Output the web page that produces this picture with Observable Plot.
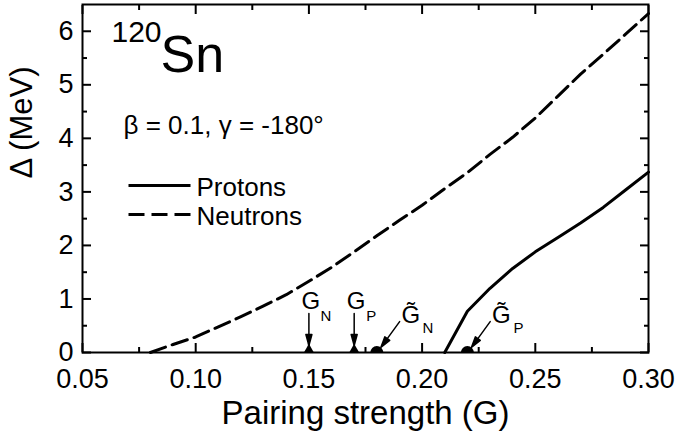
<!DOCTYPE html>
<html>
<head>
<meta charset="utf-8">
<script src="https://cdn.jsdelivr.net/npm/d3@7"></script>
<script src="https://cdn.jsdelivr.net/npm/@observablehq/plot@0.6"></script>
<style>
  html, body { margin: 0; padding: 0; background: white; }
</style>
</head>
<body>
<div id="chart"></div>
<script>
// Pairing gap Δ versus pairing strength G for 120Sn (β = 0.1, γ = -180°)
const neutronG = [0.08, 0.09, 0.10, 0.11, 0.12, 0.13, 0.14, 0.15, 0.16, 0.17, 0.18, 0.19,
                  0.20, 0.21, 0.22, 0.23, 0.24, 0.25, 0.26, 0.27, 0.28, 0.29, 0.30];
const neutronGap = [0, 0.15, 0.29, 0.48, 0.67, 0.87, 1.08, 1.33, 1.59, 1.88, 2.18, 2.47,
                    2.75, 3.06, 3.36, 3.70, 4.02, 4.38, 4.79, 5.20, 5.57, 5.95, 6.33];

const protonG = [0.21, 0.22, 0.23, 0.24, 0.25, 0.26, 0.27, 0.28, 0.29, 0.30];
const protonGap = [0, 0.77, 1.20, 1.57, 1.88, 2.15, 2.42, 2.71, 3.04, 3.37];

// critical strengths marked on the axis
const criticalG = [0.15, 0.17];          // G_N, G_P (triangles)
const criticalSub = ["N", "P"];
const tildeG = [0.18, 0.22];             // G̃_N, G̃_P (half discs)
const tildeSub = ["N", "P"];

// axis ticks
const xTicks = [0.05, 0.10, 0.15, 0.20, 0.25, 0.30];
const xMinorTicks = [0.075, 0.125, 0.175, 0.225, 0.275];
const yTicks = [0, 1, 2, 3, 4, 5, 6];
const yMinorTicks = [0.5, 1.5, 2.5, 3.5, 4.5, 5.5];

// legend
const legendLabels = ["Protons", "Neutrons"];
const legendDash = [null, "16,7"];

const neutrons = neutronG.map((g, i) => ({g, gap: neutronGap[i]}));
const protons = protonG.map((g, i) => ({g, gap: protonGap[i]}));
const critical = criticalG.map((g, i) => ({g, sub: criticalSub[i]}));
const tilde = tildeG.map((g, i) => ({g, sub: tildeSub[i]}));

// vector shapes: plain segment, and segment with a filled narrow head
const segment = {draw(c, l) { c.moveTo(0, 0); c.lineTo(0, -l); }};
const solidArrow = {
  draw(c, l) {
    const h = 11, w = 3;
    c.moveTo(0, 0); c.lineTo(0, -l + h);
    c.moveTo(-w, -l + h); c.lineTo(0, -l); c.lineTo(w, -l + h); c.closePath();
  }
};

const font = "'Liberation Sans', Arial, Helvetica, sans-serif";
const noLabel = () => "";

const axisCommon = {label: null, strokeWidth: 2};

const chart = Plot.plot({
  width: 676,
  height: 431,
  marginLeft: 82,
  marginRight: 28,
  marginTop: 4,
  marginBottom: 79,
  x: {domain: [0.05, 0.30]},
  y: {domain: [0, 6.5]},
  style: {fontFamily: font, fontSize: "27px", color: "black", background: "white", overflow: "visible"},
  marks: [
    // inward ticks on all four sides
    Plot.axisX(xTicks, {...axisCommon, anchor: "bottom", tickSize: -9, tickPadding: 25, tickFormat: d3.format(".2f")}),
    Plot.axisX(xMinorTicks, {...axisCommon, anchor: "bottom", tickSize: -5, tickFormat: noLabel}),
    Plot.axisX(xTicks, {...axisCommon, anchor: "top", tickSize: -9, tickFormat: noLabel}),
    Plot.axisX(xMinorTicks, {...axisCommon, anchor: "top", tickSize: -5, tickFormat: noLabel}),
    Plot.axisY(yTicks, {...axisCommon, anchor: "left", tickSize: -9, tickPadding: 18, tickFormat: d3.format("d")}),
    Plot.axisY(yMinorTicks, {...axisCommon, anchor: "left", tickSize: -5, tickFormat: noLabel}),
    Plot.axisY(yTicks, {...axisCommon, anchor: "right", tickSize: -9, tickFormat: noLabel}),
    Plot.axisY(yMinorTicks, {...axisCommon, anchor: "right", tickSize: -5, tickFormat: noLabel}),

    // axis titles
    Plot.text(["Pairing strength (G)"], {frameAnchor: "bottom", dy: 71, lineAnchor: "bottom", fontSize: 33}),
    Plot.text(["Δ (MeV)"], {frameAnchor: "left", dx: -51, rotate: -90, lineAnchor: "bottom", fontSize: 31}),

    // curves
    Plot.line(neutrons, {x: "g", y: "gap", strokeWidth: 3, strokeDasharray: "16,7"}),
    Plot.line(protons, {x: "g", y: "gap", strokeWidth: 3}),

    // critical points: triangles with vertical arrows
    Plot.dot(critical, {x: "g", y: () => 0, symbol: "triangle", r: 3.7, fill: "black", stroke: null, dy: -3}),
    Plot.vector(critical, {x: "g", y: () => 0, shape: solidArrow, length: 32, rotate: 180, anchor: "end",
                           dy: -7, fill: "black", stroke: "black", strokeWidth: 1.5}),
    Plot.text(critical, {x: "g", y: () => 0, text: () => "G", dx: 2, dy: -44, lineAnchor: "bottom", fontSize: 24}),
    Plot.text(critical, {x: "g", y: () => 0, text: "sub", dx: 17, dy: -32, lineAnchor: "bottom", fontSize: 15}),

    // G̃ points: half discs with slanted arrows
    Plot.dot(tilde, {x: "g", y: () => 0, r: 6.5, fill: "black", stroke: null, clip: true}),
    Plot.vector(tilde, {x: "g", y: () => 0, shape: solidArrow, length: 32, rotate: 216, anchor: "end",
                        dx: 4, dy: -5, fill: "black", stroke: "black", strokeWidth: 1.5}),
    Plot.text(tilde, {x: "g", y: () => 0, text: () => "G\u0303", dx: 34, dy: -30, lineAnchor: "bottom", fontSize: 24}),
    Plot.text(tilde, {x: "g", y: () => 0, text: "sub", dx: 51, dy: -20, lineAnchor: "bottom", fontSize: 15}),

    // nucleus and deformation
    Plot.text(["120"], {frameAnchor: "top-left", dx: 29, dy: 37, textAnchor: "start", lineAnchor: "bottom", fontSize: 30}),
    Plot.text(["Sn"], {frameAnchor: "top-left", dx: 78, dy: 67, textAnchor: "start", lineAnchor: "bottom", fontSize: 52}),
    Plot.text(["β = 0.1, γ = -180°"], {frameAnchor: "top-left", dx: 41, dy: 129, textAnchor: "start", lineAnchor: "bottom", fontSize: 26}),

    // legend
    ...legendLabels.map((label, i) => Plot.vector([label], {
      frameAnchor: "top-left", dx: 46, dy: 181 + 29 * i, rotate: 90, length: 62, anchor: "start",
      shape: segment, strokeWidth: 3, strokeLinecap: "butt", strokeDasharray: legendDash[i]
    })),
    ...legendLabels.map((label, i) => Plot.text([label], {
      frameAnchor: "top-left", dx: 114, dy: 191 + 29 * i, textAnchor: "start", lineAnchor: "bottom", fontSize: 26
    })),

    Plot.frame({strokeWidth: 2})
  ]
});

document.getElementById("chart").append(chart);
</script>
</body>
</html>
